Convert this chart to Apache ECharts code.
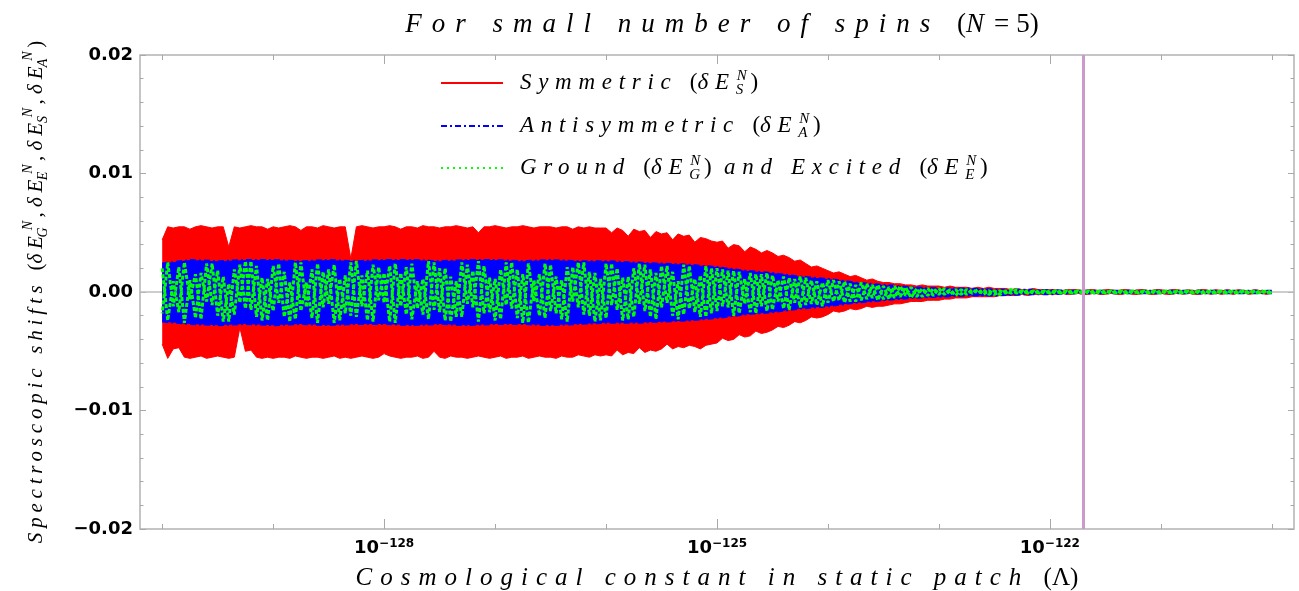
<!DOCTYPE html>
<html>
<head>
<meta charset="utf-8">
<script src="https://cdn.jsdelivr.net/npm/echarts@6/dist/echarts.min.js"></script>
<style>
html, body { margin: 0; padding: 0; background: #fff; }
#app { width: 1299px; height: 591px; }
</style>
</head>
<body>
<div id="app"></div>
<script>
// x axis is log10(Lambda); samples every 0.05 decade from 1e-130 to 1e-120
var xStart = -130;
var fineStep = 0.05;
var bandStep = 0.25;

// outer envelope of the symmetric shift (red)
var symUpper = [
    0.0044,0.0055,0.0054,0.0055,0.0055,0.0053,0.0055,0.0056,0.0055,0.0054,
    0.0055,0.0055,0.0038,0.0055,0.0054,0.0055,0.0056,0.0055,0.0055,0.0053,
    0.0055,0.0054,0.0055,0.0056,0.0055,0.0052,0.0055,0.0055,0.0054,0.0056,
    0.0055,0.0054,0.0055,0.0055,0.0028,0.0055,0.0056,0.0055,0.0054,0.0055,
    0.0055,0.0056,0.0055,0.0053,0.0055,0.0055,0.0054,0.0056,0.0055,0.0055,
    0.0054,0.0055,0.0055,0.0056,0.0055,0.0054,0.0055,0.0050,0.0055,0.0055,
    0.0056,0.0055,0.0054,0.0055,0.0055,0.0056,0.0055,0.0054,0.0055,0.0055,
    0.0055,0.0054,0.0055,0.0055,0.0053,0.0055,0.0054,0.0055,0.0054,0.0054,
    0.0054,0.0050,0.0054,0.0052,0.0047,0.0053,0.0051,0.0052,0.0046,0.0051,
    0.0049,0.0050,0.0044,0.0049,0.0047,0.0048,0.0042,0.0046,0.0045,0.0043,
    0.0042,0.0043,0.0037,0.0040,0.0039,0.0034,0.0038,0.0036,0.0033,0.0035,
    0.0033,0.0030,0.0031,0.0029,0.0026,0.0027,0.0024,0.0021,0.0022,0.0020,
    0.0018,0.0016,0.0017,0.0015,0.0013,0.0014,0.0012,0.0010,0.0011,0.0009,
    0.0008,0.0008,0.0007,0.0007,0.0006,0.0006,0.0005,0.0006,0.0005,0.0005,
    0.0005,0.0004,0.0005,0.0004,0.0004,0.0004,0.0003,0.0004,0.0003,0.0004,
    0.0003,0.0003,0.0003,0.0002,0.0003,0.0002,0.0002,0.0003,0.0002,0.0002,
    0.0002,0.0002,0.0001,0.0002,0.0002,0.0002,0.0001,0.0002,0.0002,0.0001,
    0.0002,0.0002,0.0001,0.0002,0.0002,0.0001,0.0002,0.0002,0.0001,0.0002,
    0.0002,0.0001,0.0002,0.0002,0.0001,0.0002,0.0001,0.0002,0.0002,0.0001,
    0.0002,0.0001,0.0002,0.0001,0.0002,0.0001,0.0001,0.0002,0.0001,0.0001,
    0.0001
];
var symLower = [
    -0.0044,-0.0056,-0.0048,-0.0047,-0.0055,-0.0056,-0.0055,-0.0054,-0.0056,-0.0055,
    -0.0054,-0.0055,-0.0056,-0.0055,-0.0030,-0.0050,-0.0049,-0.0055,-0.0056,-0.0055,
    -0.0056,-0.0055,-0.0055,-0.0056,-0.0054,-0.0055,-0.0056,-0.0055,-0.0055,-0.0056,
    -0.0055,-0.0054,-0.0056,-0.0055,-0.0056,-0.0055,-0.0054,-0.0055,-0.0056,-0.0055,
    -0.0052,-0.0054,-0.0055,-0.0056,-0.0055,-0.0055,-0.0054,-0.0056,-0.0055,-0.0050,
    -0.0055,-0.0056,-0.0054,-0.0055,-0.0055,-0.0056,-0.0055,-0.0054,-0.0055,-0.0056,
    -0.0055,-0.0054,-0.0056,-0.0055,-0.0055,-0.0054,-0.0056,-0.0055,-0.0054,-0.0055,
    -0.0055,-0.0056,-0.0054,-0.0055,-0.0055,-0.0053,-0.0054,-0.0055,-0.0053,-0.0054,
    -0.0053,-0.0054,-0.0049,-0.0053,-0.0051,-0.0052,-0.0047,-0.0051,-0.0049,-0.0050,
    -0.0048,-0.0044,-0.0048,-0.0046,-0.0047,-0.0045,-0.0046,-0.0048,-0.0045,-0.0044,
    -0.0043,-0.0039,-0.0041,-0.0040,-0.0036,-0.0038,-0.0037,-0.0033,-0.0035,-0.0034,
    -0.0032,-0.0029,-0.0030,-0.0028,-0.0025,-0.0026,-0.0024,-0.0021,-0.0022,-0.0021,
    -0.0019,-0.0016,-0.0017,-0.0016,-0.0014,-0.0015,-0.0014,-0.0012,-0.0013,-0.0012,
    -0.0012,-0.0011,-0.0010,-0.0010,-0.0009,-0.0008,-0.0008,-0.0008,-0.0007,-0.0007,
    -0.0007,-0.0006,-0.0006,-0.0005,-0.0005,-0.0005,-0.0004,-0.0004,-0.0004,-0.0004,
    -0.0004,-0.0003,-0.0003,-0.0003,-0.0003,-0.0002,-0.0003,-0.0002,-0.0002,-0.0002,
    -0.0002,-0.0002,-0.0001,-0.0002,-0.0002,-0.0001,-0.0002,-0.0002,-0.0001,-0.0002,
    -0.0002,-0.0001,-0.0002,-0.0002,-0.0001,-0.0002,-0.0002,-0.0001,-0.0002,-0.0002,
    -0.0001,-0.0002,-0.0002,-0.0001,-0.0002,-0.0001,-0.0002,-0.0002,-0.0001,-0.0002,
    -0.0001,-0.0002,-0.0001,-0.0002,-0.0001,-0.0001,-0.0002,-0.0001,-0.0001,-0.0002,
    -0.0001
];

// antisymmetric band (blue), every quarter decade
var antiUpper = [
    0.0024,0.0027,0.0026,0.0027,0.0027,0.0026,0.0027,0.0026,0.0027,0.0027,
    0.0026,0.0027,0.0027,0.0026,0.0027,0.0026,0.0026,0.0025,0.0024,0.0023,
    0.0021,0.0018,0.0016,0.0013,0.0011,0.0008,0.0006,0.0004,0.0003,0.0003,
    0.0002,0.0002,0.00015,0.0001,0.0001,0.0001,0.0001,0.0001,0.0001,0.0001,
    0.0001
];
var antiLower = [
    -0.0025,-0.0027,-0.0028,-0.0027,-0.0028,-0.0027,-0.0028,-0.0027,-0.0027,-0.0028,
    -0.0027,-0.0028,-0.0027,-0.0027,-0.0028,-0.0027,-0.0026,-0.0026,-0.0025,-0.0024,
    -0.0022,-0.0019,-0.0017,-0.0014,-0.0012,-0.0009,-0.0007,-0.0005,-0.0004,-0.0003,
    -0.0003,-0.0002,-0.0002,-0.0001,-0.0001,-0.0001,-0.0001,-0.0001,-0.0001,-0.0001,
    -0.0001
];

// ground state shift (green dotted), every 0.05 decade
var groundVals = [
    0.0020,-0.0024,0.0009,-0.0017,0.0025,-0.0006,0.0015,-0.0023,0.0024,-0.0011,
    0.0018,-0.0025,0.0007,-0.0019,0.0023,-0.0014,0.0026,-0.0021,0.0012,-0.0024,
    0.0022,-0.0009,0.0017,-0.0025,0.0025,-0.0016,0.0008,-0.0022,0.0024,-0.0013,
    0.0019,-0.0026,0.0011,-0.0018,0.0025,-0.0021,0.0014,-0.0024,0.0023,-0.0007,
    0.0016,-0.0025,0.0024,-0.0012,0.0021,-0.0023,0.0009,-0.0019,0.0026,-0.0015,
    0.0020,-0.0024,0.0013,-0.0021,0.0025,-0.0010,0.0018,-0.0025,0.0022,-0.0017,
    0.0011,-0.0023,0.0025,-0.0014,0.0019,-0.0026,0.0024,-0.0008,0.0015,-0.0022,
    0.0023,-0.0018,0.0010,-0.0025,0.0021,-0.0013,0.0025,-0.0020,0.0016,-0.0024,
    0.0024,-0.0011,0.0020,-0.0024,0.0013,-0.0021,0.0024,-0.0016,0.0019,-0.0023,
    0.0022,-0.0009,0.0017,-0.0023,0.0023,-0.0014,0.0011,-0.0021,0.0022,-0.0018,
    0.0020,-0.0012,0.0018,-0.0020,0.0017,-0.0010,0.0016,-0.0018,0.0015,-0.0016,
    0.0014,-0.0008,0.0013,-0.0015,0.0011,-0.0013,0.0012,-0.0010,0.0009,-0.0012,
    0.0010,-0.0008,0.0009,-0.0009,0.0007,-0.0008,0.0008,-0.0006,0.0006,-0.0007,
    0.0005,-0.0006,0.0005,-0.0004,0.0004,-0.0005,0.0003,-0.0004,0.0003,-0.0003,
    0.0003,-0.0002,0.0002,-0.0003,0.0002,-0.0002,0.0002,-0.0001,0.0002,-0.0002,
    0.0001,-0.0002,0.0001,-0.0001,0.0002,-0.0001,0.0001,-0.0001,0.0001,-0.0001,
    0.0001,-0.0001,0.0001,-0.0001,0.0001,-0.0001,0.0001,-0.0001,0.0001,-0.0001,
    0.0001,-0.0001,0.0001,-0.0001,0.0001,-0.0001,0.0001,-0.0001,0.0001,-0.0001,
    0.0001,-0.0001,0.0001,-0.0001,0.0001,-0.0001,0.0001,-0.0001,0.0001,-0.0001,
    0.0001,-0.0001,0.0001,-0.0001,0.0001,-0.0001,0.0001,-0.0001,0.0001,-0.0001,
    0.0001
];

// excited state shift (green dotted), same grid
var excitedVals = [
    -0.0018,0.0025,-0.0012,0.0021,-0.0026,0.0010,-0.0022,0.0016,-0.0008,0.0024,
    -0.0020,0.0013,-0.0025,0.0019,-0.0009,0.0026,-0.0015,0.0022,-0.0024,0.0011,
    -0.0016,0.0024,-0.0021,0.0008,-0.0023,0.0025,-0.0013,0.0019,-0.0026,0.0017,
    -0.0010,0.0023,-0.0024,0.0014,-0.0020,0.0026,-0.0012,0.0018,-0.0025,0.0021,
    -0.0009,0.0022,-0.0026,0.0016,-0.0019,0.0024,-0.0014,0.0011,-0.0023,0.0025,
    -0.0017,0.0020,-0.0025,0.0009,-0.0021,0.0023,-0.0013,0.0026,-0.0018,0.0012,
    -0.0024,0.0019,-0.0011,0.0025,-0.0022,0.0015,-0.0026,0.0010,-0.0020,0.0024,
    -0.0016,0.0013,-0.0023,0.0021,-0.0008,0.0025,-0.0019,0.0017,-0.0025,0.0011,
    -0.0022,0.0024,-0.0015,0.0012,-0.0023,0.0020,-0.0010,0.0023,-0.0021,0.0016,
    -0.0013,0.0022,-0.0020,0.0009,-0.0019,0.0022,-0.0017,0.0014,-0.0021,0.0020,
    -0.0016,0.0019,-0.0013,0.0018,-0.0018,0.0011,-0.0017,0.0015,-0.0012,0.0016,
    -0.0015,0.0010,-0.0014,0.0012,-0.0009,0.0013,-0.0011,0.0010,-0.0011,0.0008,
    -0.0009,0.0010,-0.0007,0.0009,-0.0008,0.0006,-0.0007,0.0007,-0.0005,0.0006,
    -0.0006,0.0004,-0.0005,0.0005,-0.0003,0.0004,-0.0004,0.0003,-0.0003,0.0003,
    -0.0002,0.0003,-0.0002,0.0002,-0.0002,0.0002,-0.0001,0.0002,-0.0002,0.0001,
    -0.0002,0.0001,-0.0001,0.0002,-0.0001,0.0001,-0.0001,0.0001,-0.0001,0.0001,
    -0.0001,0.0001,-0.0001,0.0001,-0.0001,0.0001,-0.0001,0.0001,-0.0001,0.0001,
    -0.0001,0.0001,-0.0001,0.0001,-0.0001,0.0001,-0.0001,0.0001,-0.0001,0.0001,
    -0.0001,0.0001,-0.0001,0.0001,-0.0001,0.0001,-0.0001,0.0001,-0.0001,0.0001,
    -0.0001,0.0001,-0.0001,0.0001,-0.0001,0.0001,-0.0001,0.0001,-0.0001,0.0001,
    -0.0001
];

var lambdaMark = -121.7;          // vertical marker, about 2e-122
var decadeTicks = [-130,-129,-128,-127,-126,-125,-124,-123,-122,-121,-120];
var labelDecades = [-128,-125,-122];

// the TeX-style math italic in the original is very loosely spaced;
// give italic canvas text some letter spacing (measure and draw alike)
var spacingBySize = { 27: 0.37, 25: 0.32, 23: 0.29, 21: 0.23 };
var proto = CanvasRenderingContext2D.prototype;
var fillText0 = proto.fillText, measureText0 = proto.measureText;
function setSpacing(ctx) {
    if (!('letterSpacing' in ctx)) return;
    var m = /italic/.test(ctx.font) && /(\d+(\.\d+)?)px/.exec(ctx.font);
    if (!m) { ctx.letterSpacing = '0px'; return; }
    var size = parseFloat(m[1]);
    var r = spacingBySize[size] || 0.25;
    ctx.letterSpacing = (size * r).toFixed(1) + 'px';
}
proto.fillText = function () { setSpacing(this); return fillText0.apply(this, arguments); };
proto.measureText = function () { setSpacing(this); return measureText0.apply(this, arguments); };

var serif = "'Liberation Serif', serif";
var sans = "'DejaVu Sans', sans-serif";

function mathRich(size, lh, subSize) {
    var base = { fontFamily: serif, fontWeight: 'normal', color: '#000' };
    function st(extra) { return Object.assign({}, base, extra); }
    return {
        t: st({ fontStyle: 'italic', fontSize: size, lineHeight: lh }),
        f: st({ fontStyle: 'italic', fontSize: size, lineHeight: lh, padding: [0, 0, 0, 12] }),
        u: st({ fontStyle: 'normal', fontSize: size, lineHeight: lh }),
        w: st({ fontStyle: 'normal', fontSize: size, lineHeight: lh, padding: [0, 0, 0, 7] }),
        sb: st({ fontStyle: 'italic', fontSize: subSize, verticalAlign: 'bottom', width: 1 }),
        sp: st({ fontStyle: 'italic', fontSize: subSize, verticalAlign: 'top' })
    };
}

var legendText = {
    'Symmetric': '{f|Symmetric }{u|(}{t|δE}{sb|S}{sp|N}{u|)}',
    'Antisymmetric': '{f|Antisymmetric }{u|(}{t|δE}{sb|A}{sp|N}{u|)}',
    'Ground and Excited': '{f|Ground }{u|(}{t|δE}{sb|G}{sp|N}{u|)}{t| and Excited }{u|(}{t|δE}{sb|E}{sp|N}{u|)}'
};

function pairs(vals, step) {
    return vals.map(function (v, i) { return [xStart + i * step, v]; });
}

function fmtY(v) {
    var s = Math.abs(v).toFixed(2);
    return v < -1e-9 ? '\u2212' + s : s;
}

var tickColor = '#a8a8a8';
var xMin = -130.2, xMax = -119.8;

function xAxisOf(pos, ticks, len, withLabels) {
    var ax = {
        type: 'value', position: pos, min: xMin, max: xMax,
        axisLine: { show: false, onZero: false },
        splitLine: { show: false },
        axisTick: { inside: true, length: len, customValues: ticks, lineStyle: { color: tickColor, width: 1 } },
        axisLabel: { show: false }
    };
    if (withLabels) {
        ax.axisLabel = {
            show: true,
            customValues: labelDecades,
            margin: 9,
            formatter: function (v) { return '{b|10}{s|\u2212' + Math.abs(Math.round(v)) + '}'; },
            rich: {
                b: { fontFamily: sans, fontWeight: 'bold', fontSize: 18, lineHeight: 20, color: '#000' },
                s: { fontFamily: sans, fontWeight: 'bold', fontSize: 12, verticalAlign: 'top', color: '#000' }
            }
        };
        ax.name = '{t|Cosmological constant in static patch }{u|(Λ)}';
        ax.nameLocation = 'middle';
        ax.nameGap = 32;
        ax.nameTextStyle = { rich: mathRich(25, 30, 16) };
    }
    return ax;
}

function yAxisOf(pos, withLabels) {
    var ax = {
        type: 'value', position: pos, min: -0.02, max: 0.02, interval: 0.01,
        axisLine: { show: false },
        splitLine: { show: false },
        axisTick: { inside: true, length: 6, lineStyle: { color: tickColor, width: 1 } },
        minorTick: { show: true, splitNumber: 5, length: 3.5, lineStyle: { color: tickColor, width: 1 } },
        axisLabel: { show: false }
    };
    if (withLabels) {
        ax.axisLabel = {
            show: true, margin: 7, formatter: fmtY,
            fontFamily: sans, fontWeight: 'bold', fontSize: 18, color: '#000'
        };
        ax.name = '{t|Spectroscopic shifts }{u|(}{t|δE}{sb|G}{sp|N}{u|, }{t|δE}{sb|E}{sp|N}{u|, }{t|δE}{sb|S}{sp|N}{u|, }{t|δE}{sb|A}{sp|N}{u|)}';
        ax.nameLocation = 'middle';
        ax.nameRotate = 90;
        ax.nameGap = 88;
        ax.nameTextStyle = { rich: mathRich(21, 32, 14) };
    }
    return ax;
}

function legendOf(name, top, lineStyle) {
    return {
        data: [name], left: 440, top: top, orient: 'vertical', padding: 0,
        itemWidth: 62, itemHeight: 14,
        itemStyle: { opacity: 0 },
        lineStyle: lineStyle,
        formatter: function (n) { return legendText[n]; },
        textStyle: { rich: mathRich(23, 32, 15) }
    };
}

var myChart = echarts.init(document.getElementById('app'));

var greenLine = { color: '#00ff00', width: 3, type: [4, 2] };

var option = {
    backgroundColor: '#fff',
    animation: false,
    title: {
        text: '{t|For small number of spins }{u|(}{t|N}{u|=}{w|5)}',
        left: 717, top: 3, textAlign: 'center',
        textStyle: { fontWeight: 'normal', rich: mathRich(27, 34, 16) }
    },
    legend: [
        legendOf('Symmetric', 67, { width: 2, type: 'solid' }),
        legendOf('Antisymmetric', 110, { width: 2, type: [6, 3, 2, 3] }),
        legendOf('Ground and Excited', 152, { width: 2, type: [2, 4] })
    ],
    grid: {
        left: 140, right: 5, top: 55, bottom: 62,
        show: true, borderColor: '#b3b3b3', borderWidth: 1.5,
        outerBoundsMode: 'none'
    },
    xAxis: [
        xAxisOf('bottom', decadeTicks, 5, true),
        xAxisOf('bottom', labelDecades, 10, false),
        xAxisOf('top', decadeTicks, 5, false),
        xAxisOf('top', labelDecades, 9, false)
    ],
    yAxis: [
        yAxisOf('left', true),
        yAxisOf('right', false)
    ],
    series: [
        {
            name: 'Symmetric', type: 'line', symbol: 'none',
            data: pairs(symUpper, fineStep),
            lineStyle: { color: '#ff0000', width: 1 },
            itemStyle: { color: '#ff0000' },
            areaStyle: { color: '#ff0000', opacity: 1, origin: 0 },
            markLine: {
                silent: true, symbol: 'none', z: 1, label: { show: false },
                lineStyle: { color: '#bdbdbd', width: 1.5, type: 'solid' },
                data: [{ yAxis: 0 }]
            }
        },
        {
            name: 'Symmetric', type: 'line', symbol: 'none',
            data: pairs(symLower, fineStep),
            lineStyle: { color: '#ff0000', width: 1 },
            itemStyle: { color: '#ff0000' },
            areaStyle: { color: '#ff0000', opacity: 1, origin: 0 }
        },
        {
            name: 'Antisymmetric', type: 'line', symbol: 'none',
            data: pairs(antiUpper, bandStep),
            lineStyle: { color: '#0000ff', width: 2, type: [6, 3, 2, 3] },
            itemStyle: { color: '#0000ff' },
            areaStyle: { color: '#0000ff', opacity: 1, origin: 0 }
        },
        {
            name: 'Antisymmetric', type: 'line', symbol: 'none',
            data: pairs(antiLower, bandStep),
            lineStyle: { color: '#0000ff', width: 2, type: [6, 3, 2, 3] },
            itemStyle: { color: '#0000ff' },
            areaStyle: { color: '#0000ff', opacity: 1, origin: 0 }
        },
        {
            name: 'Ground and Excited', type: 'line', symbol: 'none',
            data: pairs(groundVals, fineStep),
            lineStyle: greenLine,
            itemStyle: { color: '#00ff00' }
        },
        {
            name: 'Ground and Excited', type: 'line', symbol: 'none',
            data: pairs(excitedVals, fineStep),
            lineStyle: Object.assign({ dashOffset: 3 }, greenLine),
            itemStyle: { color: '#00ff00' },
            markLine: {
                silent: true, symbol: 'none', z: 10, label: { show: false },
                lineStyle: { color: '#cc99cc', width: 3, type: 'solid' },
                data: [{ xAxis: lambdaMark }]
            }
        }
    ]
};

myChart.setOption(option);
</script>
</body>
</html>
